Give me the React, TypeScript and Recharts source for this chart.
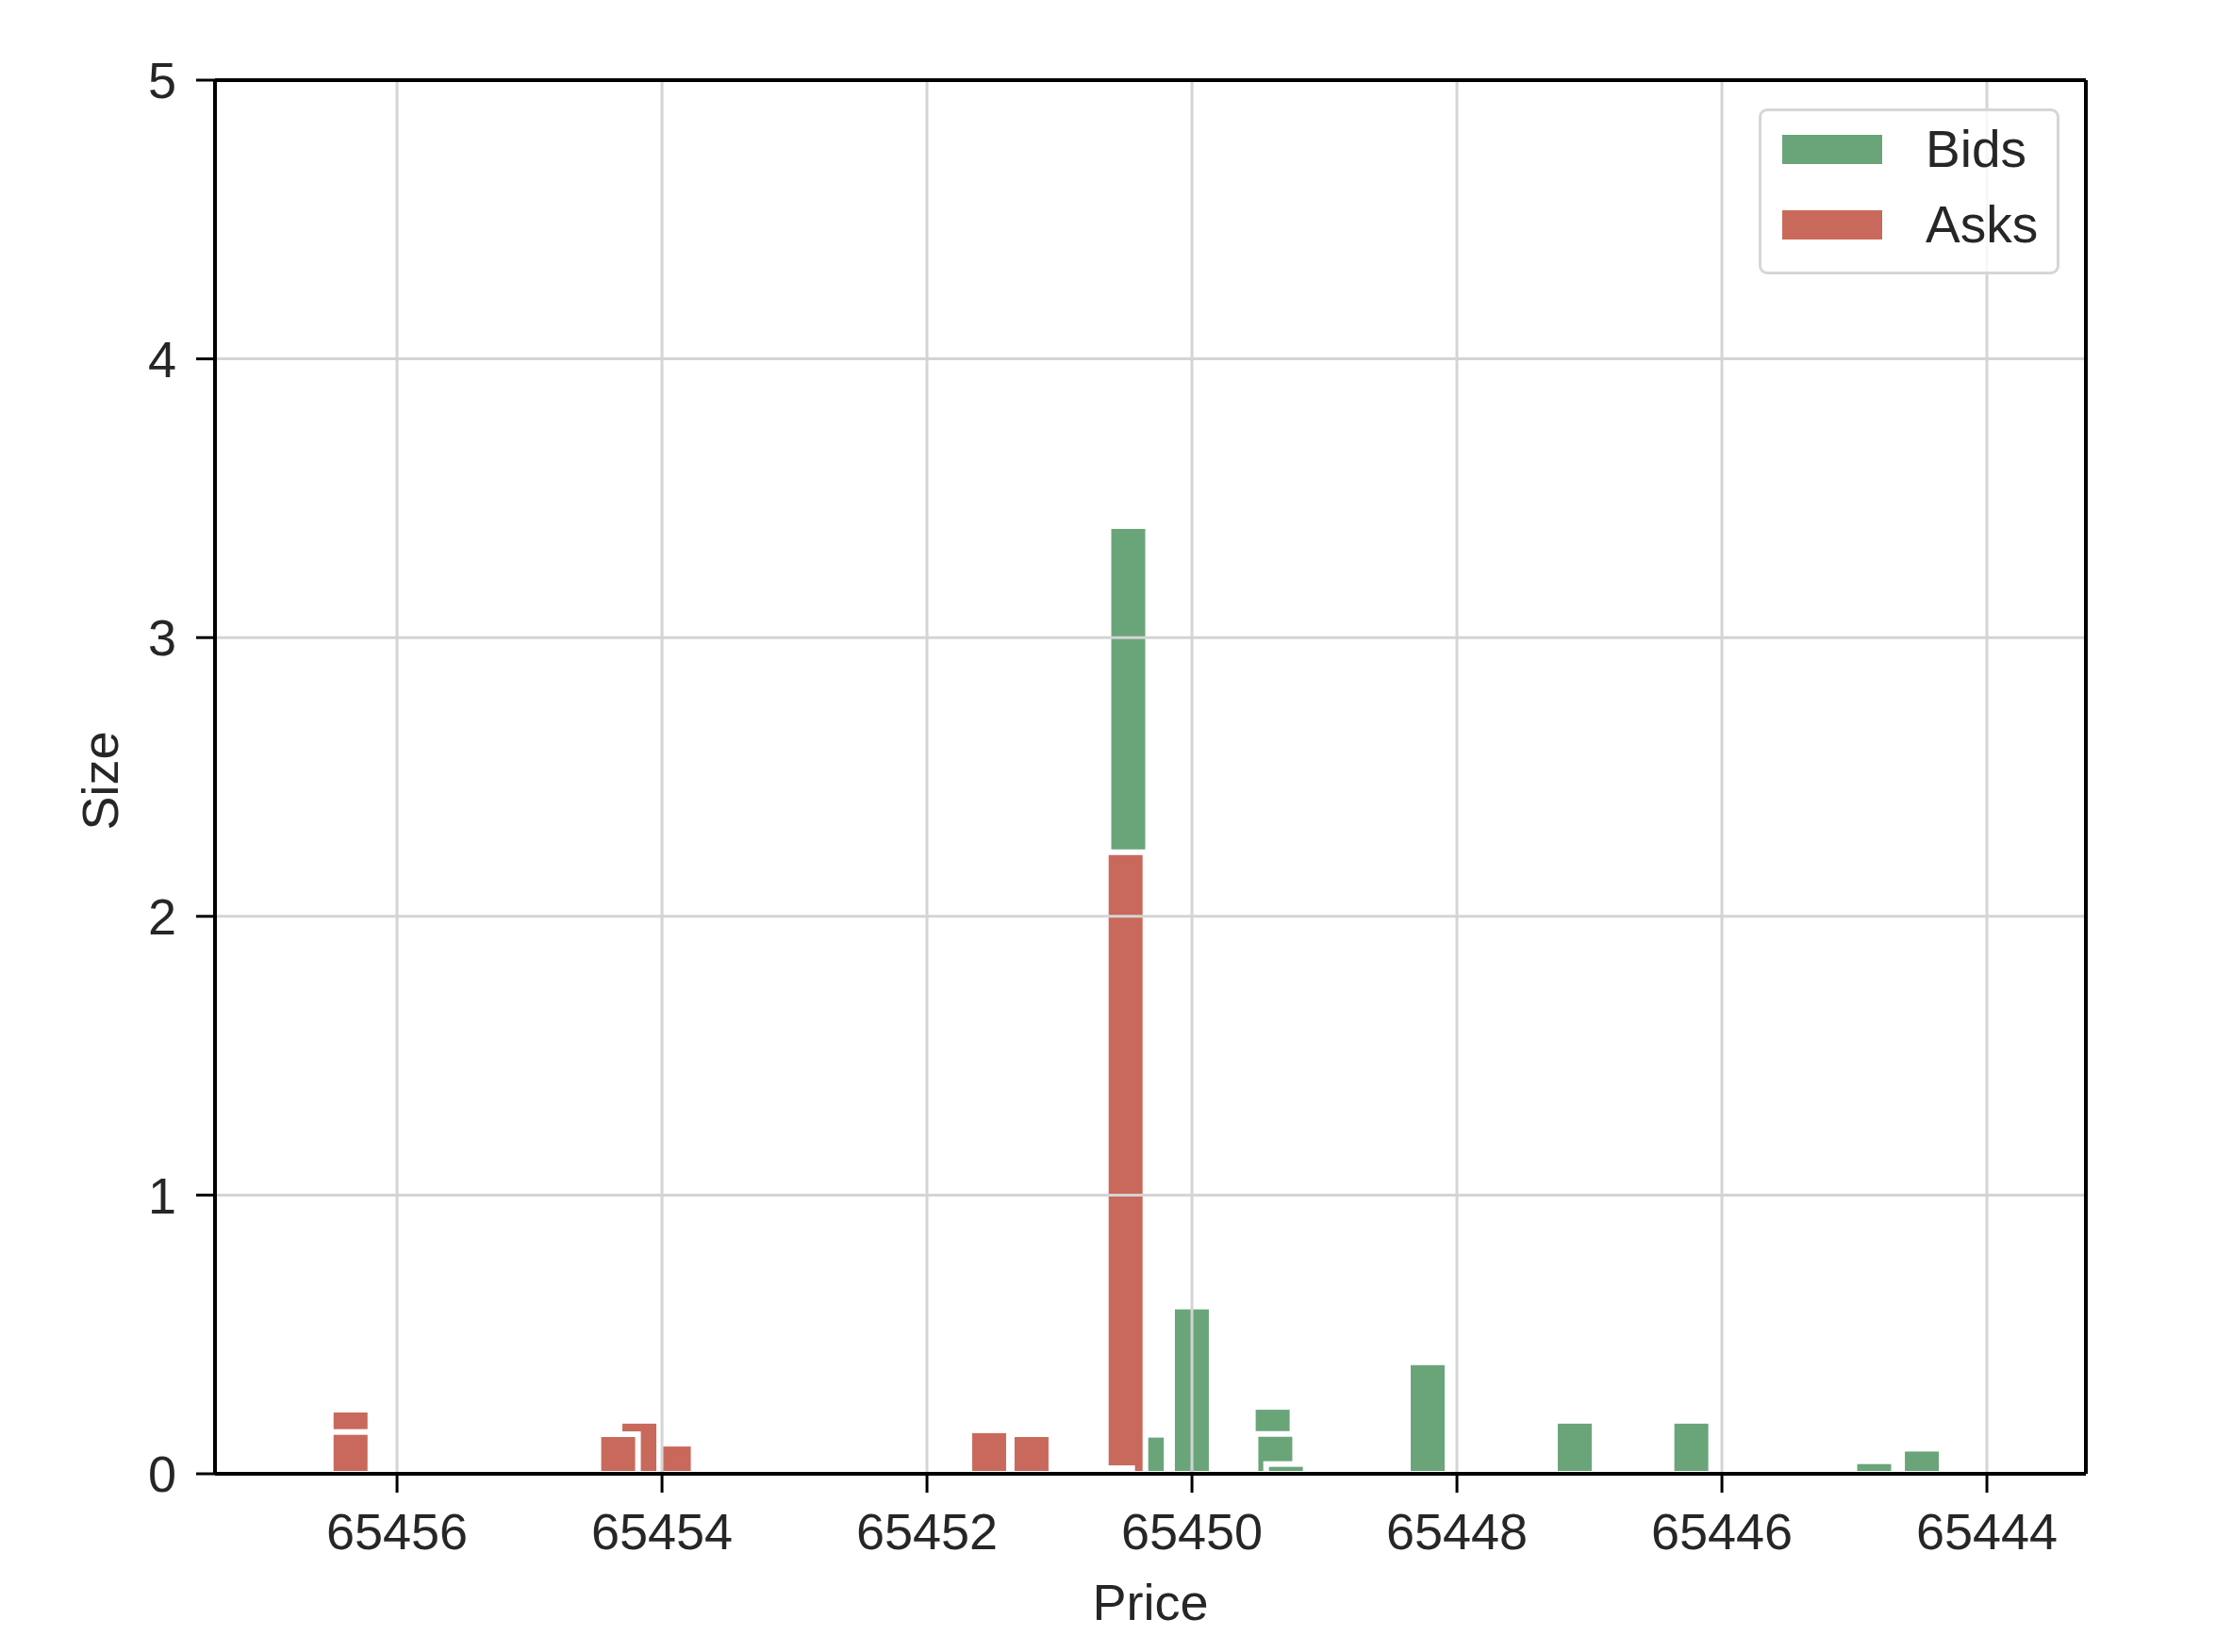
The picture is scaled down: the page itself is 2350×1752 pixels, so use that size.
import { BarChart, Bar, XAxis, YAxis, CartesianGrid, Legend, Label, ReferenceLine } from "recharts";

// order book snapshot: bids best-first (descending), asks best-first (ascending)
const bidPrices = [65450.48, 65450.34, 65450.0, 65449.39, 65449.37, 65449.29, 65448.22, 65447.11, 65446.23, 65444.85, 65444.49];
const bidSizes = [3.4, 0.14, 0.6, 0.24, 0.143, 0.035, 0.4, 0.19, 0.19, 0.045, 0.09];
const askPrices = [65450.5, 65450.6, 65451.21, 65451.53, 65453.91, 65454.17, 65454.33, 65456.35, 65456.35];
const askSizes = [2.23, 0.02, 0.142, 0.156, 0.108, 0.19, 0.142, 0.23, 0.15];

const priceTicks = [65456, 65454, 65452, 65450, 65448, 65446, 65444];
const sizeTicks = [0, 1, 2, 3, 4, 5];
const priceDomain = [65443.253, 65457.374];

const BID_COLOR = "#6aa57a";
const ASK_COLOR = "#c9695b";
const TEXT = "#262626";
const FONT = "'Liberation Sans', Arial, sans-serif";
const BAR_PX = 42; // 0.3 price units

const legendItems = [
  { name: "Bids", color: BID_COLOR },
  { name: "Asks", color: ASK_COLOR },
];

// one row per bar, so overlapping levels draw over each other like plt.bar
const rows = [
  ...bidPrices.map((price, i) => ({ price, bid: bidSizes[i] })),
  ...askPrices.map((price, i) => ({ price, ask: askSizes[i] })),
];

// recharts shrinks bars on a number axis to the smallest price gap,
// so keep its centre and draw the fixed matplotlib width ourselves
const BookBar = (props: any) => {
  const { x, y, width, height, color } = props;
  if (!height || height <= 0) return null;
  const cx = x + width / 2;
  return (
    <rect
      x={cx - BAR_PX / 2}
      y={y}
      width={BAR_PX}
      height={height}
      fill={color}
      stroke="#fff"
      strokeWidth={6}
    />
  );
};

const BookLegend = () => (
  <div
    style={{
      width: 319,
      height: 176,
      boxSizing: "border-box",
      border: "3px solid #d6d6d6",
      borderRadius: 9,
      background: "rgba(255,255,255,0.8)",
      paddingLeft: 22,
      fontFamily: FONT,
    }}
  >
    {legendItems.map((item) => (
      <div key={item.name} style={{ display: "flex", alignItems: "center", height: 80 }}>
        <span style={{ display: "inline-block", width: 106, height: 31, background: item.color }} />
        <span style={{ marginLeft: 46, fontSize: 55, color: TEXT }}>{item.name}</span>
      </div>
    ))}
  </div>
);

const SizeLabel = (props: any) => {
  const { viewBox } = props;
  const cx = 106;
  const cy = viewBox.y + viewBox.height / 2 + 4;
  return (
    <text
      x={cx}
      y={cy}
      transform={`rotate(-90, ${cx}, ${cy})`}
      textAnchor="middle"
      dominantBaseline="central"
      fontSize={54}
      fill={TEXT}
    >
      Size
    </text>
  );
};

export default function App() {
  return (
    <div
      style={{
        position: "absolute",
        top: 0,
        left: 0,
        width: 2350,
        height: 1752,
        background: "#fff",
        fontFamily: FONT,
      }}
    >
      <BarChart
        width={2350}
        height={1752}
        data={rows}
        margin={{ top: 85, right: 138, bottom: 0, left: 0 }}
      >
        <XAxis
          dataKey="price"
          type="number"
          domain={priceDomain}
          allowDataOverflow
          reversed
          ticks={priceTicks}
          interval={0}
          height={189}
          tickSize={20}
          tickMargin={22}
          tick={{ fontSize: 54, fill: TEXT }}
          tickLine={{ stroke: "#000", strokeWidth: 3 }}
          axisLine={{ stroke: "#000", strokeWidth: 4 }}
        >
          <Label value="Price" position="insideBottom" offset={34} fontSize={54} fill={TEXT} />
        </XAxis>
        <YAxis
          type="number"
          domain={[0, 5]}
          allowDataOverflow
          ticks={sizeTicks}
          interval={0}
          width={228}
          tickSize={20}
          tickMargin={21}
          tick={{ fontSize: 54, fill: TEXT }}
          tickLine={{ stroke: "#000", strokeWidth: 3 }}
          axisLine={{ stroke: "#000", strokeWidth: 4 }}
          label={<SizeLabel />}
        />
        <Bar
          dataKey="bid"
          name="Bids"
          stackId="book"
          fill={BID_COLOR}
          isAnimationActive={false}
          shape={(p: any) => <BookBar {...p} color={BID_COLOR} />}
        />
        <Bar
          dataKey="ask"
          name="Asks"
          stackId="book"
          fill={ASK_COLOR}
          isAnimationActive={false}
          shape={(p: any) => <BookBar {...p} color={ASK_COLOR} />}
        />
        {/* matplotlib drew the grid over the bars here */}
        <CartesianGrid stroke="#d4d4d4" strokeWidth={3} zIndex={350} />
        {/* top and right spines */}
        <ReferenceLine y={5} stroke="#000" strokeWidth={4} />
        <ReferenceLine x={priceDomain[0]} stroke="#000" strokeWidth={4} />
        <Legend
          layout="horizontal"
          verticalAlign="middle"
          align="center"
          content={<BookLegend />}
          wrapperStyle={{ top: 115, left: 1865, width: 319, height: 176 }}
        />
      </BarChart>
    </div>
  );
}
